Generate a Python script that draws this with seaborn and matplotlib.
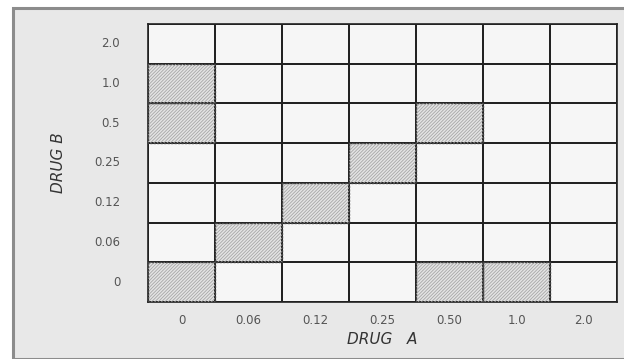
import numpy as np
import pandas as pd
import matplotlib
matplotlib.use("Agg")
import matplotlib.pyplot as plt
from matplotlib.patches import Rectangle
from matplotlib.colors import ListedColormap
import seaborn as sns

# Data
drug_a = ["0", "0.06", "0.12", "0.25", "0.50", "1.0", "2.0"]
drug_b = ["2.0", "1.0", "0.5", "0.25", "0.12", "0.06", "0"]  # top to bottom
# 1 = hatched (inhibition) cell, rows follow drug_b order
row_20 = [0, 0, 0, 0, 0, 0, 0]
row_10 = [1, 0, 0, 0, 0, 0, 0]
row_05 = [1, 0, 0, 0, 1, 0, 0]
row_025 = [0, 0, 0, 1, 0, 0, 0]
row_012 = [0, 0, 1, 0, 0, 0, 0]
row_006 = [0, 1, 0, 0, 0, 0, 0]
row_0 = [1, 0, 0, 0, 1, 1, 0]

grid = pd.DataFrame([row_20, row_10, row_05, row_025, row_012, row_006, row_0],
                    index=drug_b, columns=drug_a)

sns.set_theme(style="white")
plt.rcParams["font.family"] = ["DejaVu Sans"]
plt.rcParams["hatch.linewidth"] = 0.6

fig = plt.figure(figsize=(6.24, 3.59), dpi=100)
fig.patch.set_facecolor("white")
W, H = 624, 359
# outer frame
fig.patches.append(Rectangle((13 / W, 0), 1.2, 1 - 8 / H, transform=fig.transFigure,
                             facecolor="#e8e8e8", edgecolor="#8c8c8c", linewidth=2.2,
                             zorder=-5))

ax = fig.add_axes([148 / W, 1 - 302 / H, 469 / W, 278 / H])

# base grid: cells coloured by value (hatched cells slightly grey)
sns.heatmap(grid, ax=ax, cmap=ListedColormap(["#f6f6f6", "#e4e4e4"]), cbar=False,
            linewidths=1.1, linecolor="#222222", vmin=0, vmax=1)

# hatching for the marked cells (QuadMesh cannot hatch)
for i, row in enumerate(grid.values):
    for j, v in enumerate(row):
        if v:
            ax.add_patch(Rectangle((j, i), 1, 1, facecolor="none", hatch="//////////",
                                   edgecolor="#a6a6a6", linewidth=0, zorder=3))
            ax.add_patch(Rectangle((j, i), 1, 1, facecolor="none",
                                   edgecolor="#444444", linewidth=1.0,
                                   linestyle=(0, (1.5, 1.0)), zorder=4))

for side in ax.spines.values():
    side.set_visible(True)
    side.set_color("#222222")
    side.set_linewidth(1.2)

ax.tick_params(axis="both", length=0, labelsize=8.5, colors="#555555")
ax.tick_params(axis="x", pad=9)
ax.tick_params(axis="y", pad=20)
ax.set_xticklabels(drug_a, rotation=0)
ax.set_yticklabels(drug_b, rotation=0)
for t in ax.get_xticklabels() + ax.get_yticklabels():
    t.set_color("#555555")

ax.set_xlabel("DRUG   A", fontsize=11, style="italic", color="#333333", labelpad=3)
ax.set_ylabel("DRUG B", fontsize=11, style="italic", color="#333333", labelpad=20)

fig.savefig("out.png", dpi=100, facecolor=fig.get_facecolor())
